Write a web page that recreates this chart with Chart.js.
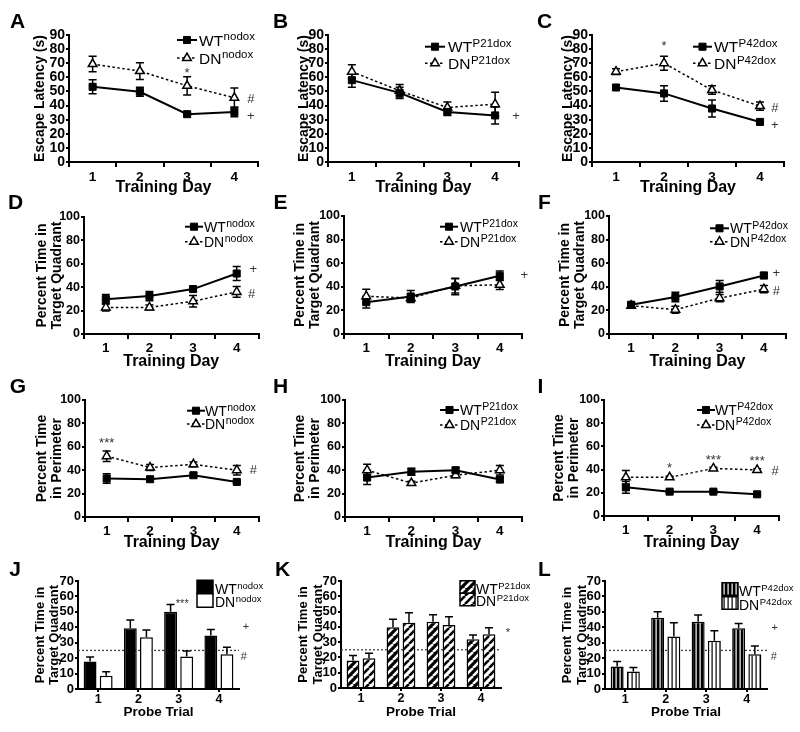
<!DOCTYPE html>
<html>
<head>
<meta charset="utf-8">
<title>Water maze panels</title>
<script src="https://cdn.jsdelivr.net/npm/chart.js@4.4.1/dist/chart.umd.min.js"></script>
<style>
  html, body { margin:0; padding:0; background:#fff; }
  #fig { position:relative; width:800px; height:732px; overflow:hidden; background:#fff; }
  #fig canvas { position:absolute; }
</style>
</head>
<body>
<div id="fig"></div>
<script>
// ---------------- data ----------------
const trainingDays = ['1', '2', '3', '4'];
const probeTrials = ['1', '2', '3', '4'];
const chanceLevel = 25;

// A-C: escape latency (s)
const aWT = [53.3, 49.8, 33.9, 35.5];  const aWTErr = [5, 3.2, 1, 3.5];
const aDN = [69.4, 64.4, 54, 45.5];    const aDNErr = [5.5, 6, 6.5, 7];
const bWT = [58, 49, 35.5, 33];        const bWTErr = [5, 4, 2.5, 6];
const bDN = [64, 50.5, 38.6, 41];      const bDNErr = [5, 4.5, 4, 8.5];
const cWT = [52.8, 48.6, 37.9, 28.4];  const cWTErr = [2, 5.5, 6, 1];
const cDN = [64, 70, 51, 39.6];        const cDNErr = [2, 5, 3, 3];
// D-F: percent time in target quadrant
const dWT = [29.8, 32.4, 38.4, 51.7];  const dWTErr = [4, 4, 2, 6];
const dDN = [22.7, 22.7, 28, 36];      const dDNErr = [3, 2, 5, 4.5];
const eWT = [27, 31.8, 40.3, 49.3];    const eWTErr = [5, 5, 7, 4];
const eDN = [32, 30.4, 40.8, 41.7];    const eDNErr = [6, 3, 6, 4];
const fWT = [24.8, 31.3, 40.3, 49.6];  const fWTErr = [2, 4, 5, 2.5];
const fDN = [24, 20.6, 30.4, 38];      const fDNErr = [2, 3, 3, 3];
// G-I: percent time in perimeter
const gWT = [32.9, 32.3, 35.7, 30];    const gWTErr = [4, 2, 2, 1];
const gDN = [52, 42.3, 45, 40];        const gDNErr = [4.5, 2.5, 2, 4];
const hWT = [33.7, 38.6, 40, 32];      const hWTErr = [6, 3, 2, 2];
const hDN = [40, 29, 35.7, 40];        const hDNErr = [5, 1.5, 2, 4];
const iWT = [24.7, 21, 21, 18.7];      const iWTErr = [5, 1, 1, 1];
const iDN = [33.3, 33.3, 41, 39.7];    const iDNErr = [6, 1, 1, 1];
// J-L: probe trials, percent time in target quadrant
const jWT = [17.8, 39.3, 50, 34.6];    const jWTErr = [3, 5.4, 4.8, 4];
const jDN = [8.6, 33.5, 21, 22.5];     const jDNErr = [2.6, 4.7, 3.7, 4.5];
const kWT = [18, 39.7, 43.3, 31.9];    const kWTErr = [3.2, 5.3, 4.7, 2.8];
const kDN = [19.5, 42.7, 41.2, 35.1];  const kDNErr = [3.3, 6.5, 5.4, 4.3];
const lWT = [14.6, 46.2, 43.6, 39.3];  const lWTErr = [3.2, 3.8, 4.3, 3.2];
const lDN = [11.4, 34, 31.3, 22.5];    const lDNErr = [2.6, 9, 6.5, 5.4];

// significance marks: [text, category index, value]
const notesA = [['*', 2, 65], ['#', 3.35, 44], ['+', 3.35, 32]];
const notesB = [['+', 3.44, 32]];
const notesC = [['*', 1, 84], ['#', 3.31, 38.3], ['+', 3.31, 26.2]];
const notesD = [['+', 3.38, 55.6], ['#', 3.34, 34.2]];
const notesE = [['+', 3.55, 50]];
const notesF = [['+', 3.28, 51.7], ['#', 3.28, 36.4]];
const notesG = [['***', 0, 66], ['#', 3.38, 40.2]];
const notesH = [];
const notesI = [['*', 1, 44], ['***', 2, 51], ['***', 3, 50], ['#', 3.41, 38.8]];
const notesJ = [['***', 2.09, 57], ['+', 3.67, 40.2], ['#', 3.62, 20.7]];
const notesK = [['*', 3.67, 37.9]];
const notesL = [['+', 3.69, 39.5], ['#', 3.67, 20.7]];

// ---------------- drawing ----------------
const FONT = "'Liberation Sans', Arial, Helvetica, sans-serif";
Chart.defaults.font.family = FONT;
Chart.defaults.color = '#000';

function stripes(bg, fg, kind) {
  const c = document.createElement('canvas');
  const s = kind === 'diag' ? 8 : 4;
  c.width = s; c.height = s;
  const g = c.getContext('2d');
  g.fillStyle = bg; g.fillRect(0, 0, s, s);
  if (kind === 'diag') {
    g.strokeStyle = fg; g.lineWidth = 2.6;
    g.beginPath();
    for (let k = -1; k <= 1; k++) { g.moveTo(k * s, s); g.lineTo(k * s + s, 0); }
    g.stroke();
  } else {
    g.fillStyle = fg; g.fillRect(1.5, 0, 1.2, s);
  }
  return g.createPattern(c, 'repeat');
}

const rowA = { yMax: 90, yStep: 10, yFont: 14, yLH: 1.2, yTick: 14, xTitle: 'Training Day', xFont: 16, xTickLen: 5, xTickFont: 13.5, labels: trainingDays, type: 'line' };
const rowD = { yMax: 100, yStep: 20, yFont: 14, yLH: 1.08, yTick: 12.5, xTitle: 'Training Day', xFont: 16, xTickLen: 5, xTickFont: 13.5, labels: trainingDays, type: 'line', yTitle: ['Percent Time in', 'Target Quadrant'] };
const rowG = { yMax: 100, yStep: 20, yFont: 14, yLH: 1.05, yTick: 12.5, xTitle: 'Training Day', xFont: 16, xTickLen: 5, xTickFont: 13.5, labels: trainingDays, type: 'line', yTitle: ['Percent Time', 'in Perimeter'] };
const rowJ = { yMax: 70, yStep: 10, yFont: 13, yLH: 1.12, yTick: 13, xTitle: 'Probe Trial', xFont: 13.5, xTickLen: 3, xTickFont: 12.5, labels: probeTrials, type: 'bar', yTitle: ['Percent Time in', 'Target Quadrant'] };

const lgA = { main: 15.5, sup: 11.5 };
const lgD = { main: 14, sup: 10.5 };
const lgJ = { main: 14, sup: 9.5 };

const panels = [
  Object.assign({}, rowA, { letter: 'A', pos: [17.5, 22], box: [0, 0, 265, 200], area: [69, 258, 35, 162], yTitle: 'Escape Latency (s)', yTitlePad: 31.6, xTickPad: 2.2, xTitlePad: 2.4,
    wt: aWT, wtErr: aWTErr, dn: aDN, dnErr: aDNErr, sup: 'nodox', legend: Object.assign({ sx: 177, sw: 20, y1: 40, y2: 58, tx: 199 }, lgA), notes: notesA }),
  Object.assign({}, rowA, { letter: 'B', pos: [15.5, 22], box: [265, 0, 265, 200], area: [63, 254, 35, 162], yTitle: 'Escape Latency (s)', yTitlePad: 30.6, xTickPad: 2.2, xTitlePad: 2.4,
    wt: bWT, wtErr: bWTErr, dn: bDN, dnErr: bDNErr, sup: 'P21dox', legend: Object.assign({ sx: 160, sw: 20, y1: 46.7, y2: 63.3, tx: 183 }, lgA), notes: notesB }),
  Object.assign({}, rowA, { letter: 'C', pos: [14.5, 22], box: [530, 0, 270, 200], area: [62, 254, 35, 162], yTitle: 'Escape Latency (s)', yTitlePad: 30.1, xTickPad: 2.2, xTitlePad: 2.4,
    wt: cWT, wtErr: cWTErr, dn: cDN, dnErr: cDNErr, sup: 'P42dox', legend: Object.assign({ sx: 163, sw: 19, y1: 46.7, y2: 63.3, tx: 184 }, lgA), notes: notesC }),

  Object.assign({}, rowD, { letter: 'D', pos: [15.5, 23], box: [0, 180, 265, 200], area: [84, 260, 37, 154], yTitlePad: 34.4, xTickPad: 1.2, xTitlePad: 8.4,
    wt: dWT, wtErr: dWTErr, dn: dDN, dnErr: dDNErr, sup: 'nodox', legend: Object.assign({ sx: 185, sw: 18, y1: 46.7, y2: 61.7, tx: 204 }, lgD), notes: notesD }),
  Object.assign({}, rowD, { letter: 'E', pos: [15.5, 23], box: [265, 180, 265, 200], area: [79, 257, 36, 154], yTitlePad: 27.9, xTickPad: 1.2, xTitlePad: 8.4,
    wt: eWT, wtErr: eWTErr, dn: eDN, dnErr: eDNErr, sup: 'P21dox', legend: Object.assign({ sx: 175, sw: 18, y1: 46.7, y2: 61.7, tx: 195 }, lgD), notes: notesE }),
  Object.assign({}, rowD, { letter: 'F', pos: [14.5, 23], box: [530, 180, 270, 200], area: [79, 256, 36, 154], yTitlePad: 27.9, xTickPad: 1.2, xTitlePad: 8.4,
    wt: fWT, wtErr: fWTErr, dn: fDN, dnErr: fDNErr, sup: 'P42dox', legend: Object.assign({ sx: 180, sw: 19, y1: 48.3, y2: 61.7, tx: 200 }, lgD), notes: notesF }),

  Object.assign({}, rowG, { letter: 'G', pos: [18, 27.5], box: [0, 360, 265, 200], area: [85, 260, 40, 157], yTitlePad: 35.1, xTickPad: 0.7, xTitlePad: 7.9,
    wt: gWT, wtErr: gWTErr, dn: gDN, dnErr: gDNErr, sup: 'nodox', legend: Object.assign({ sx: 187, sw: 18, y1: 50.7, y2: 64, tx: 205 }, lgD), notes: notesG }),
  Object.assign({}, rowG, { letter: 'H', pos: [15.5, 27.5], box: [265, 360, 265, 200], area: [80, 257, 40, 157], yTitlePad: 28, xTickPad: 0.7, xTitlePad: 7.9,
    wt: hWT, wtErr: hWTErr, dn: hDN, dnErr: hDNErr, sup: 'P21dox', legend: Object.assign({ sx: 175, sw: 19, y1: 50, y2: 65, tx: 195 }, lgD), notes: notesH }),
  Object.assign({}, rowG, { letter: 'I', pos: [10.5, 27.5], box: [530, 360, 270, 200], area: [74, 249, 40, 156], yTitlePad: 22, xTickPad: 0.7, xTitlePad: 7.9,
    wt: iWT, wtErr: iWTErr, dn: iDN, dnErr: iDNErr, sup: 'P42dox', legend: Object.assign({ sx: 167, sw: 18, y1: 50, y2: 65, tx: 185 }, lgD), notes: notesI }),

  Object.assign({}, rowJ, { letter: 'J', pos: [15, 30], box: [0, 540, 265, 192], area: [78, 239, 41, 149], yTitlePad: 32.7, xTickPad: 0.5, xTitlePad: 11.9,
    wt: jWT, wtErr: jWTErr, dn: jDN, dnErr: jDNErr, sup: 'nodox', fills: ['#000', '#fff'], legend: Object.assign({ bx: 197, bw: 16, bh: 13.5, y1: 47, y2: 60.5, tx: 215 }, lgJ), notes: notesJ }),
  Object.assign({}, rowJ, { letter: 'K', pos: [17.5, 30], box: [265, 540, 265, 192], area: [76, 236, 41, 148], yTitlePad: 31.2, xTickPad: 0.5, xTitlePad: 11.9,
    wt: kWT, wtErr: kWTErr, dn: kDN, dnErr: kDNErr, sup: 'P21dox', fills: [stripes('#000', '#fff', 'diag'), stripes('#fff', '#000', 'diag')], legend: Object.assign({ bx: 195, bw: 15, bh: 12.5, y1: 47, y2: 59.5, tx: 211 }, lgJ), notes: notesK }),
  Object.assign({}, rowJ, { letter: 'L', pos: [14.5, 30], box: [530, 540, 270, 192], area: [75, 237, 41, 149], yTitlePad: 30.2, xTickPad: 0.5, xTitlePad: 11.9,
    wt: lWT, wtErr: lWTErr, dn: lDN, dnErr: lDNErr, sup: 'P42dox', fills: [stripes('#000', '#fff', 'vert'), stripes('#fff', '#000', 'vert')], legend: Object.assign({ bx: 192, bw: 16, bh: 12.5, y1: 49, y2: 63, tx: 209 }, lgJ), notes: notesL })
];

function decoPlugin(p) {
  const isBar = p.type === 'bar';
  function drawErr(chart) {
    const ctx = chart.ctx, ys = chart.scales.y;
    [[0, p.wtErr], [1, p.dnErr]].forEach(([di, errs]) => {
      const meta = chart.getDatasetMeta(di);
      const vals = chart.data.datasets[di].data;
      ctx.save();
      ctx.strokeStyle = '#000'; ctx.lineWidth = 1.5; ctx.setLineDash([]);
      meta.data.forEach((el, i) => {
        const v = vals[i], e = errs[i], x = el.x;
        const yTop = ys.getPixelForValue(v + e);
        const yBot = ys.getPixelForValue(isBar ? v : v - e);
        ctx.beginPath();
        ctx.moveTo(x, yBot); ctx.lineTo(x, yTop);
        ctx.moveTo(x - 4, yTop); ctx.lineTo(x + 4, yTop);
        if (!isBar) { ctx.moveTo(x - 4, yBot); ctx.lineTo(x + 4, yBot); }
        ctx.stroke();
      });
      ctx.restore();
    });
  }
  return {
    id: 'deco' + p.letter,
    beforeDatasetsDraw(chart) {
      if (isBar) {
        const ctx = chart.ctx, ca = chart.chartArea;
        const y = chart.scales.y.getPixelForValue(chanceLevel);
        ctx.save();
        ctx.strokeStyle = '#444'; ctx.lineWidth = 1.3; ctx.setLineDash([2, 2]);
        ctx.beginPath(); ctx.moveTo(ca.left, y); ctx.lineTo(ca.right, y); ctx.stroke();
        ctx.restore();
      } else {
        drawErr(chart);
      }
    },
    afterDatasetsDraw(chart) { if (isBar) drawErr(chart); },
    afterDraw(chart) {
      const ctx = chart.ctx;
      ctx.save();
      // panel letter
      ctx.fillStyle = '#000';
      ctx.font = 'bold 21px ' + FONT;
      ctx.textAlign = 'center'; ctx.textBaseline = 'middle';
      ctx.fillText(p.letter, p.pos[0], p.pos[1]);
      // legend
      const lg = p.legend;
      [['WT', 0, lg.y1], ['DN', 1, lg.y2]].forEach(([name, di, y]) => {
        const ds = chart.data.datasets[di];
        ctx.save();
        if (!isBar) {
          ctx.strokeStyle = '#000'; ctx.lineWidth = ds.borderWidth;
          ctx.setLineDash(ds.borderDash || []);
          ctx.beginPath(); ctx.moveTo(lg.sx, y); ctx.lineTo(lg.sx + lg.sw, y); ctx.stroke();
          ctx.setLineDash([]);
          ctx.fillStyle = ds.pointBackgroundColor; ctx.strokeStyle = '#000'; ctx.lineWidth = ds.pointBorderWidth;
          Chart.helpers.drawPoint(ctx, { pointStyle: ds.pointStyle, radius: ds.pointRadius, rotation: 0, borderWidth: ds.pointBorderWidth }, lg.sx + lg.sw / 2, y);
        } else {
          ctx.fillStyle = ds.backgroundColor;
          ctx.fillRect(lg.bx, y - lg.bh / 2, lg.bw, lg.bh);
          ctx.strokeStyle = '#000'; ctx.lineWidth = 1.5;
          ctx.strokeRect(lg.bx, y - lg.bh / 2, lg.bw, lg.bh);
        }
        ctx.restore();
        const ty = isBar ? y + 1.5 : y;
        const base = ty + lg.main * 0.36;
        ctx.fillStyle = '#000'; ctx.textAlign = 'left'; ctx.textBaseline = 'alphabetic';
        ctx.font = lg.main + 'px ' + FONT;
        ctx.fillText(name, lg.tx, base);
        const w = ctx.measureText(name).width;
        ctx.font = lg.sup + 'px ' + FONT;
        ctx.fillText(p.sup, lg.tx + w + 0.5, base - lg.main * 0.34);
      });
      // significance marks
      const xs = chart.scales.x, ys = chart.scales.y;
      const nsize = isBar ? 11 : 13;
      ctx.fillStyle = '#333'; ctx.textAlign = 'center'; ctx.textBaseline = 'middle';
      ctx.font = nsize + 'px ' + FONT;
      p.notes.forEach(([t, xi, v]) => {
        const px = xs.getPixelForValue(xi);
        let py = ys.getPixelForValue(v);
        if (t.indexOf('*') >= 0) py += nsize * 0.25;
        ctx.fillText(t, px, py);
      });
      ctx.restore();
    }
  };
}

const fig = document.getElementById('fig');
panels.forEach(p => {
  const [bx, by, bw, bh] = p.box;
  const [L, R, T, B] = p.area;
  const cv = document.createElement('canvas');
  cv.width = bw; cv.height = bh;
  cv.style.left = bx + 'px'; cv.style.top = by + 'px';
  cv.style.width = bw + 'px'; cv.style.height = bh + 'px';
  fig.appendChild(cv);
  const isBar = p.type === 'bar';
  const datasets = isBar ? [
    { label: 'WT', data: p.wt, backgroundColor: p.fills[0], borderColor: '#000', borderWidth: 1.5, categoryPercentage: 0.8, barPercentage: 0.8 },
    { label: 'DN', data: p.dn, backgroundColor: p.fills[1], borderColor: '#000', borderWidth: 1.5, categoryPercentage: 0.8, barPercentage: 0.8 }
  ] : [
    { label: 'WT', data: p.wt, borderColor: '#000', borderWidth: 2, tension: 0, fill: false,
      pointStyle: 'rect', pointRadius: 5, pointBackgroundColor: '#000', pointBorderColor: '#000', pointBorderWidth: 1 },
    { label: 'DN', data: p.dn, borderColor: '#000', borderWidth: 1.5, borderDash: [2.5, 2.5], tension: 0, fill: false,
      pointStyle: 'triangle', pointRadius: 5, pointBackgroundColor: '#fff', pointBorderColor: '#000', pointBorderWidth: 1.5 }
  ];
  new Chart(cv, {
    type: p.type,
    data: { labels: p.labels, datasets },
    options: {
      responsive: false, animation: false, events: [],
      layout: { padding: { left: 0, top: T, right: bw - R, bottom: 0 } },
      plugins: { legend: { display: false }, tooltip: { enabled: false }, title: { display: false } },
      scales: {
        x: {
          offset: true,
          grid: { offset: !isBar, drawOnChartArea: false, drawTicks: true, tickLength: p.xTickLen, color: '#000', lineWidth: 2 },
          border: { display: true, color: '#000', width: 2 },
          ticks: { font: { size: p.xTickFont, weight: 'bold' }, color: '#000', padding: p.xTickPad, maxRotation: 0, autoSkip: false },
          title: { display: true, text: p.xTitle, color: '#000', font: { size: p.xFont, weight: 'bold', lineHeight: 1.2 }, padding: { top: 0, bottom: p.xTitlePad } },
          afterFit: s => { s.height = bh - B; }
        },
        y: {
          min: 0, max: p.yMax,
          ticks: { stepSize: p.yStep, autoSkip: false, color: '#000', padding: 1, font: { size: p.yTick, weight: 'bold' } },
          grid: { drawOnChartArea: false, drawTicks: true, tickLength: 3, color: '#000', lineWidth: 2 },
          border: { display: true, color: '#000', width: 2 },
          title: { display: true, text: p.yTitle, color: '#000', font: { size: p.yFont, weight: 'bold', lineHeight: p.yLH }, padding: { top: p.yTitlePad, bottom: 0 } },
          afterFit: s => { s.width = L; }
        }
      }
    },
    plugins: [decoPlugin(p)]
  });
});
</script>
</body>
</html>
